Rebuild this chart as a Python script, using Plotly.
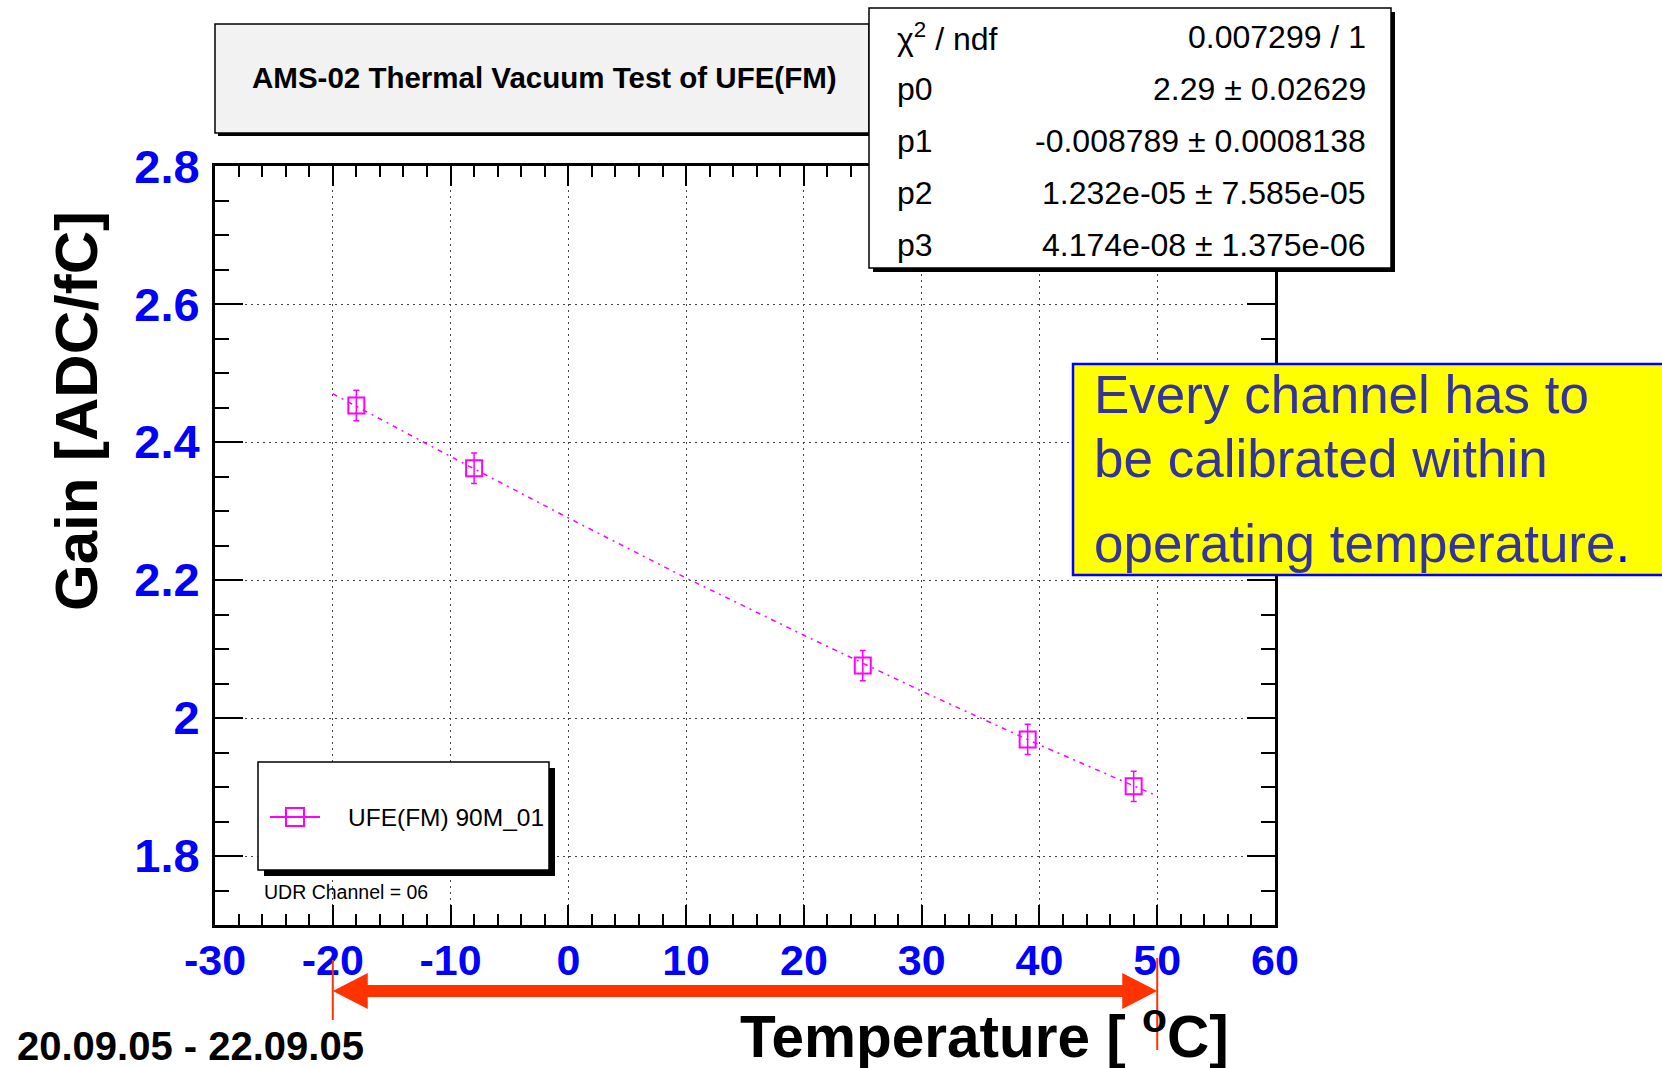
import plotly.graph_objects as go

# ---------------- data ----------------
temperature = [-18.0, -8.0, 25.0, 39.0, 48.0]
gain = [2.453, 2.362, 2.076, 1.969, 1.901]
gain_err = [0.022, 0.022, 0.022, 0.022, 0.022]

fit_temperature = [-20, -10, 0, 10, 20, 30, 40, 50]
fit_gain = [2.470, 2.379, 2.290, 2.203, 2.120, 2.039, 1.961, 1.887]

x_tick_values = [-30, -20, -10, 0, 10, 20, 30, 40, 50, 60]
x_tick_labels = ["-30", "-20", "-10", "0", "10", "20", "30", "40", "50", "60"]
y_tick_values = [1.8, 2.0, 2.2, 2.4, 2.6, 2.8]
y_tick_labels = ["1.8", "2", "2.2", "2.4", "2.6", "2.8"]

operating_range = [-20, 50]

stat_labels = ["χ<sup>2</sup> / ndf", "p0", "p1", "p2", "p3"]
stat_values = ["0.007299 / 1", "2.29 ± 0.02629", "-0.008789 ± 0.0008138",
               "1.232e-05 ± 7.585e-05", "4.174e-08 ± 1.375e-06"]

series_name = "UFE(FM) 90M_01"
title_text = "AMS-02 Thermal Vacuum Test of UFE(FM)"
note_lines = ["Every channel has to", "be calibrated within",
              "operating temperature<span style=\"color:#0000ff\">.</span>"]

# ---------------- geometry helpers ----------------
W_FIG, H_FIG = 1662, 1068
L, T, R, B = 215, 166, 1275, 925
PW, PH = R - L, B - T


def fx(px):
    return (px - L) / PW


def fy(py):
    return 1 - (py - T) / PH


MAG = "#ff00ff"
FONT = "Liberation Sans, Arial, Helvetica, sans-serif"
RED = "#ff3300"

fig = go.Figure()

fig.add_trace(go.Scatter(
    x=fit_temperature, y=fit_gain, mode="lines",
    line=dict(color=MAG, width=1.5, dash="5px,5px,2px,5px"),
    showlegend=False, hoverinfo="skip"))

fig.add_trace(go.Scatter(
    x=temperature, y=gain, mode="markers", name=series_name,
    marker=dict(symbol="square-open", size=16, color=MAG, line=dict(width=2, color=MAG)),
    error_y=dict(type="data", array=gain_err, color=MAG, thickness=1.5, width=3),
    showlegend=False))

shapes = []
annotations = []


def box(x0, y0, x1, y1, fill, line_color="black", lw=1.5, shadow=0):
    if shadow:
        shapes.append(dict(type="rect", xref="paper", yref="paper",
                           x0=fx(x0 + shadow), x1=fx(x1 + shadow),
                           y0=fy(y0 + shadow), y1=fy(y1 + shadow),
                           fillcolor="black", line=dict(width=0), layer="above"))
    shapes.append(dict(type="rect", xref="paper", yref="paper",
                       x0=fx(x0), x1=fx(x1), y0=fy(y0), y1=fy(y1),
                       fillcolor=fill, line=dict(color=line_color, width=lw), layer="above"))


def text(s, px, py, size, color="black", xanchor="center", yanchor="middle", angle=0, bold=False):
    if bold:
        s = "<b>" + s + "</b>"
    annotations.append(dict(text=s, x=fx(px), y=fy(py), xref="paper", yref="paper",
                            xanchor=xanchor, yanchor=yanchor, showarrow=False,
                            textangle=angle, font=dict(family=FONT, size=size, color=color)))


# title box
box(215, 24, 869, 133, "#f2f2f2", shadow=3)
text(title_text, 544, 78, 29.5, bold=True)

# stat box
box(869, 8, 1391, 268, "white", shadow=4)
row_y = [37, 89, 141, 193, 245]
for lab, val, ry in zip(stat_labels, stat_values, row_y):
    text(lab, 895, ry, 32, xanchor="left")
    text(val, 1368, ry, 32, xanchor="right")

# legend box
box(258, 762, 549, 870, "white", shadow=6)
shapes.append(dict(type="line", xref="paper", yref="paper",
                   x0=fx(270), x1=fx(320), y0=fy(817), y1=fy(817),
                   line=dict(color=MAG, width=2), layer="above"))
shapes.append(dict(type="rect", xref="paper", yref="paper",
                   x0=fx(286), x1=fx(304), y0=fy(808), y1=fy(826),
                   line=dict(color=MAG, width=2), fillcolor="rgba(0,0,0,0)", layer="above"))
text(series_name, 346, 817, 24.5, xanchor="left")
text("UDR Channel = 06", 262, 892, 19.5, xanchor="left")

# yellow note box
box(1073, 364, 1664, 575, "#ffff00", line_color="#0000ff", lw=2.5)
for line_txt, ly in zip(note_lines, [394, 459, 543]):
    text(line_txt, 1092, ly, 53, color="#333399", xanchor="left")

# axis titles and date
text("Gain [ADC/fC]", 76, 411, 60, angle=-90, bold=True)
text("Temperature [ <sup>o</sup>C]", 984, 1032, 58.5, bold=True)
text("20.09.05 - 22.09.05", 15, 1046, 40, xanchor="left", bold=True)

# red operating range arrow
arrow_y = fy(991)
shapes.append(dict(type="line", xref="x", yref="paper",
                   x0=operating_range[0] + 2, x1=operating_range[1] - 2,
                   y0=arrow_y, y1=arrow_y, line=dict(color=RED, width=12), layer="above"))
for anchor, path in [(operating_range[0], "M0,0 L35,18 L35,-18 Z"),
                     (operating_range[1], "M0,0 L-35,18 L-35,-18 Z")]:
    shapes.append(dict(type="path", xref="x", yref="paper", xsizemode="pixel",
                       ysizemode="pixel", xanchor=anchor, yanchor=arrow_y, path=path,
                       fillcolor=RED, line=dict(color=RED, width=0), layer="above"))
shapes.append(dict(type="line", xref="x", yref="paper", x0=operating_range[0], x1=operating_range[0],
                   y0=fy(960), y1=fy(1020), line=dict(color=RED, width=2), layer="above"))
shapes.append(dict(type="line", xref="x", yref="paper", x0=operating_range[1], x1=operating_range[1],
                   y0=fy(958), y1=fy(1050), line=dict(color=RED, width=2), layer="above"))

fig.update_layout(
    width=W_FIG, height=H_FIG,
    margin=dict(l=L, r=W_FIG - R, t=T, b=H_FIG - B, pad=0),
    paper_bgcolor="white", plot_bgcolor="white",
    showlegend=False,
    shapes=shapes, annotations=annotations,
    xaxis=dict(range=[-30, 60], tickmode="array", tickvals=x_tick_values, ticktext=x_tick_labels,
               ticks="inside", ticklen=20, tickwidth=1.5, tickcolor="black",
               minor=dict(tickmode="linear", tick0=-30, dtick=2, ticks="inside", ticklen=11,
                          tickwidth=1.5, tickcolor="black"),
               showline=True, linewidth=3, linecolor="black", mirror="ticks",
               showgrid=True, gridcolor="#444444", gridwidth=1, griddash="2px,4px",
               zeroline=False, ticklabelstandoff=-5,
               tickfont=dict(family=FONT, size=43, color="#0000ff", weight="bold")),
    yaxis=dict(range=[1.7, 2.8001], tickmode="array", tickvals=y_tick_values, ticktext=y_tick_labels,
               ticks="inside", ticklen=28, tickwidth=1.5, tickcolor="black",
               minor=dict(tickmode="linear", tick0=1.7, dtick=0.05, ticks="inside", ticklen=14,
                          tickwidth=1.5, tickcolor="black"),
               showline=True, linewidth=3, linecolor="black", mirror="ticks",
               showgrid=True, gridcolor="#444444", gridwidth=1, griddash="2px,4px",
               zeroline=False, ticklabelstandoff=3,
               tickfont=dict(family=FONT, size=47, color="#0000ff", weight="bold")),
)

fig.write_html("out.html")
